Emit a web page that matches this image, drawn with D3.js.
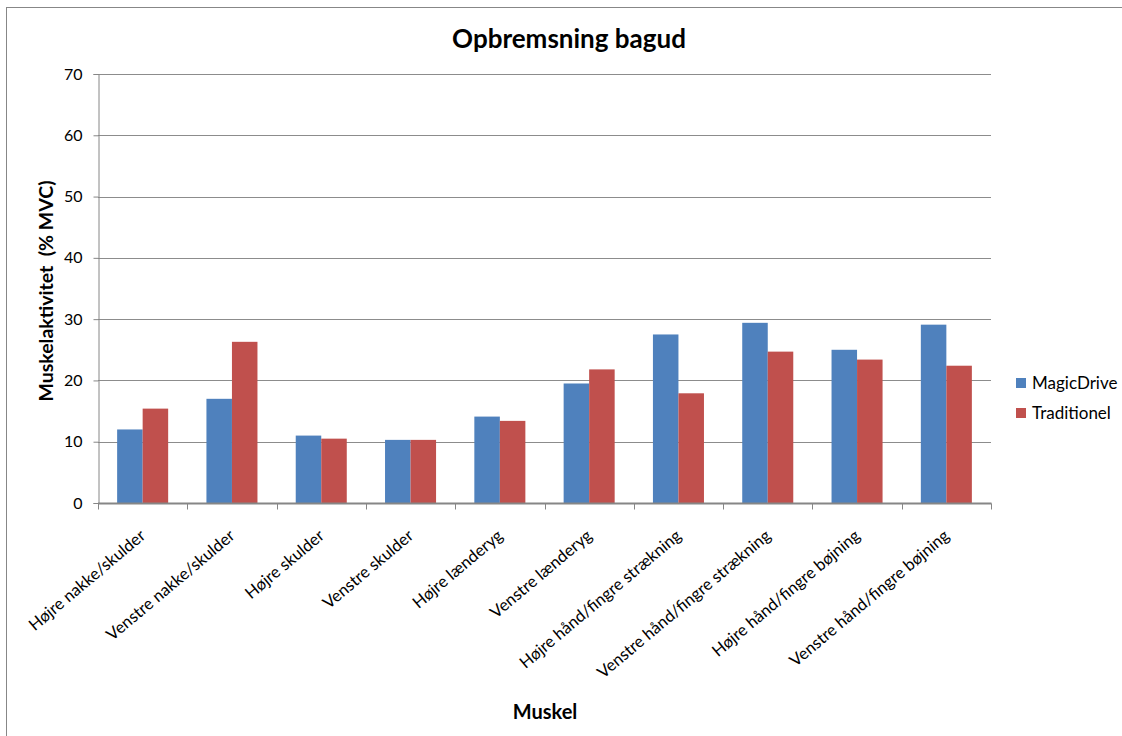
<!DOCTYPE html>
<html><head><meta charset="utf-8">
<script src="https://cdn.jsdelivr.net/npm/d3@7"></script>
<style>
html,body{margin:0;padding:0;background:#fff;}
text{font-family:Lato,"Liberation Sans",sans-serif;fill:#000;}
</style></head>
<body>
<svg id="chart" width="1122" height="736"></svg>
<script>
const categories = ["Højre nakke/skulder","Venstre nakke/skulder","Højre skulder","Venstre skulder","Højre lænderyg","Venstre lænderyg","Højre hånd/fingre strækning","Venstre hånd/fingre strækning","Højre hånd/fingre bøjning","Venstre hånd/fingre bøjning"];
const seriesNames = ["MagicDrive","Traditionel"];
const magicDrive = [12.0,17.0,11.0,10.3,14.1,19.5,27.5,29.4,25.0,29.1];
const traditionel = [15.4,26.3,10.5,10.3,13.4,21.8,17.9,24.7,23.4,22.4];
const yTicks = [0,10,20,30,40,50,60,70];
const colors = ["#4F81BD","#C0504D"];
const title = "Opbremsning bagud";
const yTitle = "Muskelaktivitet  (% MVC)";
const xTitle = "Muskel";

const svg = d3.select("#chart");
// outer chart border
svg.append("rect").attr("x",6.5).attr("y",7.5).attr("width",1130).attr("height",740)
  .attr("fill","none").attr("stroke","#878787").attr("stroke-width",1);

const pLeft=98, pRight=991, pTop=74, pBottom=503;
const x = d3.scaleBand().domain(categories).range([pLeft,pRight]).paddingInner(0).paddingOuter(0);
const y = d3.scaleLinear().domain([0,70]).range([pBottom,pTop]);
const inner = d3.scaleBand().domain(seriesNames).range([0,x.bandwidth()]).paddingInner(0).paddingOuter(0.75);

// gridlines
svg.append("g").selectAll("line").data(yTicks.slice(1)).join("line")
  .attr("x1",pLeft).attr("x2",pRight).attr("y1",d=>Math.round(y(d))+0.5).attr("y2",d=>Math.round(y(d))+0.5)
  .attr("stroke","#8c8c8c").attr("stroke-width",1);

// bars
const data = [magicDrive, traditionel];
seriesNames.forEach((s,si)=>{
  svg.append("g").selectAll("rect").data(categories).join("rect")
    .attr("x",(c)=>x(c)+inner(s))
    .attr("width",inner.bandwidth())
    .attr("y",(c,i)=>y(data[si][i]))
    .attr("height",(c,i)=>y(0)-y(data[si][i]))
    .attr("fill",colors[si]);
});

// y axis
const yAxis = d3.axisLeft(y).tickValues(yTicks).tickSize(5).tickPadding(11);
const gy = svg.append("g").attr("transform",`translate(${pLeft+0.5},0)`).call(yAxis);
gy.select(".domain").attr("stroke","#868686");
gy.selectAll(".tick line").attr("stroke","#868686");
gy.selectAll(".tick text").attr("font-size",16).attr("font-family","Lato,sans-serif");

// x axis
const gx = svg.append("g").attr("transform",`translate(0,${pBottom+0.5})`);
gx.append("line").attr("x1",pLeft).attr("x2",pRight+0.5).attr("stroke","#868686").attr("stroke-width",2);
const bounds = categories.map(c=>x(c)).concat([pRight]);
gx.selectAll(".tk").data(bounds).join("line").attr("class","tk")
  .attr("x1",d=>Math.round(d)+0.5).attr("x2",d=>Math.round(d)+0.5).attr("y1",0).attr("y2",6)
  .attr("stroke","#868686");
gx.selectAll(".lbl").data(categories).join("text").attr("class","lbl")
  .attr("transform",c=>`translate(${x(c)+x.bandwidth()/2+4},${34}) rotate(-40)`)
  .attr("text-anchor","end")
  .attr("font-size",16.5).text(c=>c);

// titles
svg.append("text").attr("x",569).attr("y",48).attr("text-anchor","middle")
  .attr("font-size",26).attr("font-weight","bold").text(title);
svg.append("text").attr("transform",`translate(53,291) rotate(-90)`).attr("text-anchor","middle")
  .style("white-space","pre")
  .attr("font-size",19.5).attr("font-weight","bold").text(yTitle);
svg.append("text").attr("x",545).attr("y",719).attr("text-anchor","middle")
  .attr("font-size",20).attr("font-weight","bold").text(xTitle);

// legend
const lg = svg.append("g").attr("transform","translate(1016,378)");
seriesNames.forEach((s,i)=>{
  lg.append("rect").attr("x",0).attr("y",i*30).attr("width",10).attr("height",10).attr("fill",colors[i]);
  lg.append("text").attr("x",16).attr("y",i*30+5).attr("dy","0.36em").attr("font-size",17).text(s);
});
</script>
</body></html>
